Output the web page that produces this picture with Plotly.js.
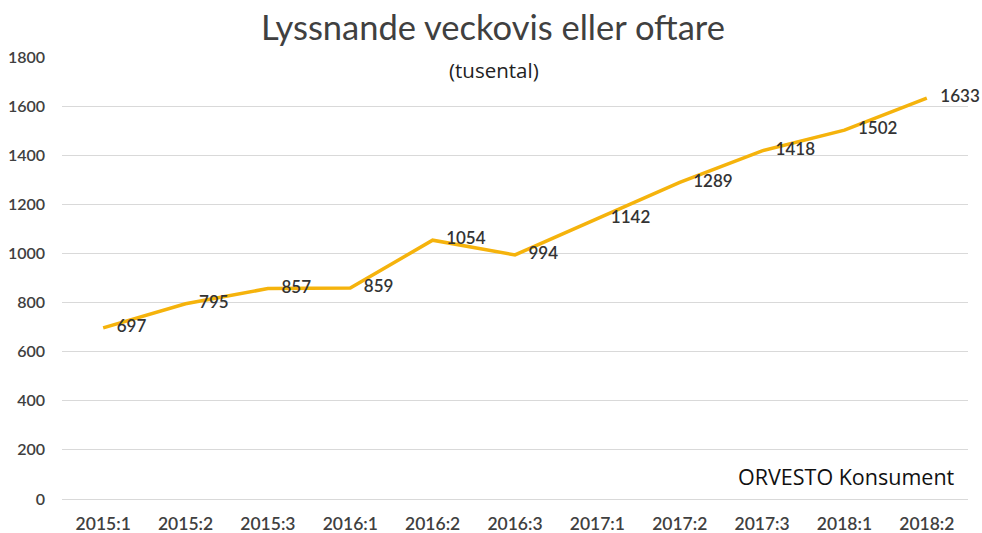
<!DOCTYPE html>
<html>
<head>
<meta charset="utf-8">
<script src="https://cdn.plot.ly/plotly-3.0.1.min.js"></script>
<style>html,body{margin:0;padding:0;background:#fff}#chart{width:982px;height:533px}</style>
</head>
<body>
<div id="chart"></div>
<script>
const categories = ["2015:1","2015:2","2015:3","2016:1","2016:2","2016:3","2017:1","2017:2","2017:3","2018:1","2018:2"];
const values = [697,795,857,859,1054,994,1142,1289,1418,1502,1633];
const yTicks = [0,200,400,600,800,1000,1200,1400,1600,1800];
const titleText = "Lyssnande veckovis eller oftare";
const subtitleText = "(tusental)";
const sourceText = "ORVESTO Konsument";

const trace = {
  x: categories,
  y: values,
  type: "scatter",
  mode: "lines+markers+text",
  text: values.map(String),
  textposition: "middle right",
  textfont: {family: "Lato, sans-serif", size: 17, weight: 600, color: "#333333"},
  line: {color: "#F5B30C", width: 3.5},
  marker: {size: 20, color: "rgba(0,0,0,0)", line: {width: 0}},
  hoverinfo: "skip",
  cliponaxis: false
};

const layout = {
  width: 982, height: 533,
  margin: {l: 62, r: 14, t: 57, b: 34},
  paper_bgcolor: "#ffffff", plot_bgcolor: "#ffffff",
  showlegend: false,
  title: {text: titleText, x: 0.502, xanchor: "center", y: 0.948, yanchor: "middle",
          font: {family: "Lato, sans-serif", size: 34.5, color: "#404040"}},
  xaxis: {
    type: "category", range: [-0.5, 10.5], showgrid: false, zeroline: false,
    showline: false, ticks: "", ticklabelstandoff: 12,
    tickfont: {family: "Lato, sans-serif", size: 17.5, weight: 600, color: "#404040"}
  },
  yaxis: {
    range: [0, 1800], tickvals: yTicks, ticktext: yTicks.map(String),
    showgrid: true, gridcolor: "#d9d9d9", gridwidth: 1,
    zeroline: true, zerolinecolor: "#d9d9d9", zerolinewidth: 1,
    showline: false, ticks: "", ticklabelstandoff: 16,
    tickfont: {family: "Lato, sans-serif", size: 16, weight: 600, color: "#404040"}
  },
  annotations: [
    {text: subtitleText, xref: "paper", yref: "paper", x: 0.477, y: 1.0, xanchor: "center", yanchor: "middle",
     yshift: -13, showarrow: false, font: {family: "Open Sans, sans-serif", size: 20.5, color: "#222222"}},
    {text: sourceText, xref: "paper", yref: "paper", x: 0.988, y: 0.05, xanchor: "right", yanchor: "middle",
     showarrow: false, font: {family: "Open Sans, sans-serif", size: 21.5, color: "#111111"}}
  ]
};

Plotly.newPlot("chart", [trace], layout, {displayModeBar: false, staticPlot: true});
</script>
</body>
</html>
